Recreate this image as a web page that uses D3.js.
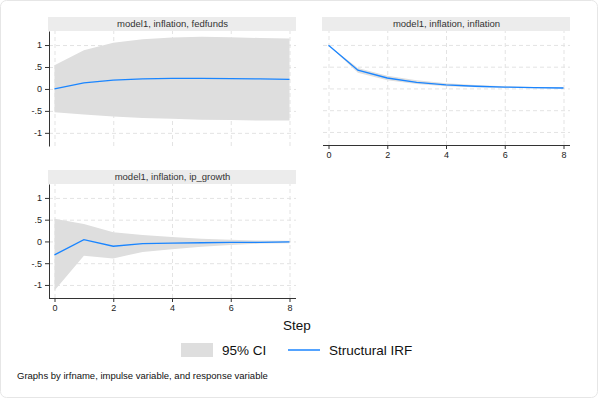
<!DOCTYPE html>
<html>
<head>
<meta charset="utf-8">
<title>irf</title>
<style>
  body { margin: 0; background: #fff; font-family: "Liberation Sans", Arial, sans-serif; }
  .grid line { stroke: #e3e3e3; stroke-dasharray: 4,3; stroke-width: 1; }
  .axis path, .axis line { stroke: #333; }
  .axis text { font-size: 9px; fill: #222; font-family: "Liberation Sans", Arial, sans-serif; }
  .irf { fill: none; stroke: #1a85ff; stroke-width: 1.3; }
  .band { fill: #dedede; }
</style>
</head>
<body>
<script src="https://cdn.jsdelivr.net/npm/d3@7"></script>
<script>
// data
var steps = [0, 1, 2, 3, 4, 5, 6, 7, 8];
var yTicks = [-1, -0.5, 0, 0.5, 1];
var yTickLabels = ["-1", "-.5", "0", ".5", "1"];
var xTicks = [0, 2, 4, 6, 8];

var titles = ["model1, inflation, fedfunds", "model1, inflation, inflation", "model1, inflation, ip_growth"];

var fedIrf   = [0, 0.14, 0.20, 0.23, 0.24, 0.24, 0.235, 0.23, 0.22];
var fedLo    = [-0.53, -0.58, -0.63, -0.66, -0.68, -0.70, -0.71, -0.72, -0.72];
var fedHi    = [0.54, 0.88, 1.05, 1.13, 1.17, 1.19, 1.18, 1.16, 1.15];

var infIrf   = [0.99, 0.42, 0.24, 0.14, 0.08, 0.05, 0.03, 0.02, 0.01];
var infLo    = [0.99, 0.36, 0.19, 0.10, 0.05, 0.03, 0.015, 0.005, 0.0];
var infHi    = [0.99, 0.47, 0.29, 0.19, 0.12, 0.08, 0.05, 0.035, 0.025];

var ipIrf    = [-0.31, 0.04, -0.11, -0.05, -0.04, -0.03, -0.02, -0.02, -0.01];
var ipLo     = [-1.13, -0.33, -0.39, -0.24, -0.18, -0.12, -0.08, -0.05, -0.04];
var ipHi     = [0.52, 0.40, 0.21, 0.15, 0.10, 0.06, 0.04, 0.02, 0.015];

var W = 598, H = 398;
var svg = d3.select("body").append("svg").attr("width", W).attr("height", H);

svg.append("rect").attr("x", 0.5).attr("y", 0.5).attr("width", W - 1).attr("height", H - 1)
  .attr("rx", 6).attr("fill", "#fff").attr("stroke", "#e6e6e6");

var panels = [
  {title: titles[0], irf: fedIrf, lo: fedLo, hi: fedHi, left: 49, right: 296, top: 31, bottom: 146, yaxis: true, xaxis: false},
  {title: titles[1], irf: infIrf, lo: infLo, hi: infHi, left: 323, right: 570, top: 31, bottom: 145, yaxis: false, xaxis: true},
  {title: titles[2], irf: ipIrf, lo: ipLo, hi: ipHi, left: 49, right: 296, top: 184, bottom: 298, yaxis: true, xaxis: true}
];

panels.forEach(function (p) {
  var g = svg.append("g");
  var x = d3.scaleLinear().domain([0, 8]).range([p.left + 5.5, p.right - 6.5]);
  var y = d3.scaleLinear().domain([-1.3, 1.32]).range([p.bottom, p.top]);

  // title strip
  g.append("rect").attr("x", p.left - 1).attr("y", p.top - 14).attr("width", p.right - p.left + 1).attr("height", 14)
    .attr("fill", "#ececec");
  g.append("text").attr("x", (p.left + p.right) / 2).attr("y", p.top - 4)
    .attr("text-anchor", "middle").style("font-size", "9.5px").style("fill", "#333").text(p.title);

  // grid
  g.append("g").attr("class", "grid")
    .attr("transform", "translate(0," + p.bottom + ")")
    .call(d3.axisBottom(x).tickValues(xTicks).tickSize(-(p.bottom - p.top)).tickFormat(""))
    .call(function (s) { s.select(".domain").remove(); });
  g.append("g").attr("class", "grid")
    .attr("transform", "translate(" + p.left + ",0)")
    .call(d3.axisLeft(y).tickValues(yTicks).tickSize(-(p.right - p.left)).tickFormat(""))
    .call(function (s) { s.select(".domain").remove(); });

  // CI band
  var area = d3.area().x(function (d, i) { return x(steps[i]); })
    .y0(function (d, i) { return y(p.lo[i]); })
    .y1(function (d, i) { return y(p.hi[i]); });
  g.append("path").datum(p.irf).attr("class", "band").attr("d", area);

  // IRF line
  var line = d3.line().x(function (d, i) { return x(steps[i]); }).y(function (d) { return y(d); });
  g.append("path").datum(p.irf).attr("class", "irf").attr("d", line);

  if (p.yaxis) {
    g.append("g").attr("class", "axis")
      .attr("transform", "translate(" + p.left + ",0)")
      .call(d3.axisLeft(y).tickValues(yTicks).tickSize(4).tickSizeOuter(0)
        .tickFormat(function (d, i) { return yTickLabels[i]; }));
  }
  if (p.xaxis) {
    g.append("g").attr("class", "axis")
      .attr("transform", "translate(0," + p.bottom + ")")
      .call(d3.axisBottom(x).tickValues(xTicks).tickSize(4).tickSizeOuter(0))
      .call(function (s) { s.select(".domain").attr("d", "M" + p.left + ",0.5H" + p.right); });
  }
});

// x title
svg.append("text").attr("x", 297).attr("y", 330).attr("text-anchor", "middle")
  .style("font-size", "13.5px").style("fill", "#111").text("Step");

// legend
var leg = svg.append("g");
leg.append("rect").attr("x", 181).attr("y", 343).attr("width", 32).attr("height", 14).attr("class", "band");
leg.append("text").attr("x", 222).attr("y", 355).style("font-size", "13.5px").style("fill", "#111").text("95% CI");
leg.append("line").attr("x1", 288).attr("x2", 320).attr("y1", 350).attr("y2", 350)
  .attr("stroke", "#1a85ff").attr("stroke-width", 1.5);
leg.append("text").attr("x", 329).attr("y", 355).style("font-size", "13.5px").style("fill", "#111").text("Structural IRF");

// note
svg.append("text").attr("x", 17).attr("y", 379).style("font-size", "9.5px").style("fill", "#111")
  .text("Graphs by irfname, impulse variable, and response variable");
</script>
</body>
</html>
